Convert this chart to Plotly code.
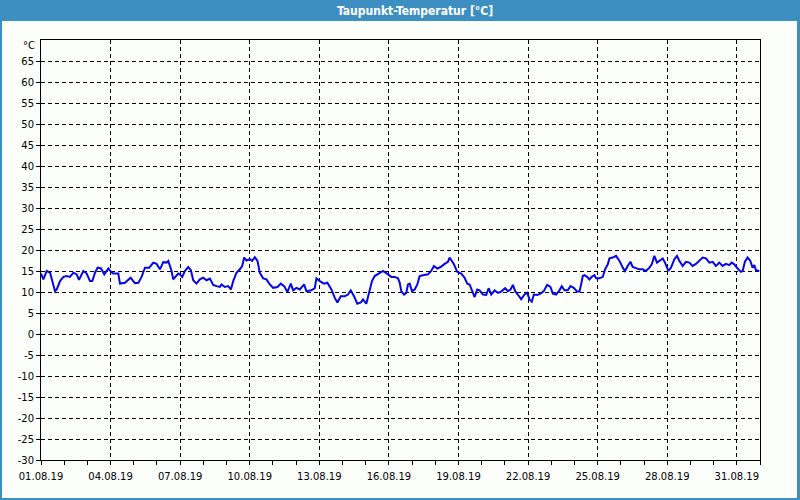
import plotly.graph_objects as go
import pandas as pd

title_text = "Taupunkt-Temperatur [°C]"
unit_label = "°C"
start_date = "2019-08-01"
end_date = "2019-09-01"

# hours since 01.08.2019 00:00
hours = [
    0, 2.5, 5.9, 9.4, 14.5, 16.3, 19.7, 23.2, 26.6, 30.0, 33.5, 36.9, 39.3, 41.4, 43.8, 47.3, 50.7, 53.1, 55.9, 58.6,
    62.1, 65.5, 69.7, 72.4, 74.8, 80.0, 81.7, 86.9, 90.3, 92.7, 97.2, 100.7, 104.1, 107.6, 112.0, 116.2, 119.6, 123.1,
    126.5, 130.0, 131.7, 135.1, 136.8, 140.3, 142.0, 143.7, 146.1, 148.9, 152.3, 155.1, 157.5, 160.9, 164.4, 167.8,
    171.3, 174.7, 178.2, 181.6, 185.1,
    186.8, 190.2, 193.7, 196.5, 198.9, 202.3, 205.7, 208.2, 210.2, 212.6, 216.1, 218.5, 221.3, 224.0, 226.4, 229.9,
    233.3, 236.8, 240.2, 244.7, 248.1, 251.6, 255.0, 258.5, 260.9, 264.3, 267.8, 272.3, 274.6, 279.8, 283.3, 285.0,
    288.5, 292.9, 296.3, 300.5, 304.0, 306.7, 310.2, 314.3, 317.7, 320.5, 323.9, 327.3, 330.9, 333.2, 336.6, 340.2,
    342.5, 345.3, 348.7, 353.9, 359.1, 362.5, 366.0,
    369.4, 371.2, 372.8, 375.6, 378.0, 379.7, 381.5, 383.9, 386.7, 389.4, 391.8, 395.3, 400.4, 403.8, 406.6, 410.0,
    413.5, 417.7, 421.1, 422.8, 424.5, 427.3, 430.7, 434.8, 438.3, 441.1, 443.5, 445.9, 448.7, 451.4, 453.8, 457.3,
    460.7, 463.2, 465.9, 469.3, 472.8, 476.2, 480.3, 483.1, 485.9, 488.3, 490.7, 493.4, 496.9, 500.3, 503.1, 505.5,
    507.9, 510.0, 513.4, 516.9, 520.3, 523.7, 527.2, 529.6, 533.0, 536.5, 538.9, 541.7, 545.1, 547.9, 551.3, 554.7,
    557.2, 558.9, 560.6, 562.4, 565.1, 567.5, 569.9, 572.7, 574.4, 577.9, 581.3, 583.7, 586.5, 588.2, 591.6, 595.0,
    598.6, 602.0, 604.3, 607.1, 609.9, 612.3, 615.7, 619.2, 622.6, 626.0, 629.6, 632.0, 634.7, 637.4, 639.9, 643.3,
    645.7, 649.2, 651.9, 655.4, 658.1, 660.6, 664.0, 667.4, 670.9, 674.3, 677.7, 681.2, 684.6, 688.1, 691.6, 695.0,
    698.4, 701.9, 705.3, 708.7, 712.3, 714.6, 717.4, 720.8, 724.3, 726.0, 728.4, 731.2, 734.0, 736.3, 738.1, 739.8,
    743.3,
]

dewpoint = [
    14.4, 13.0, 15.0, 14.6, 10.2, 10.6, 12.6, 13.6, 13.8, 13.6, 14.6, 14.2, 12.9, 13.8, 15.0, 14.4, 12.6, 12.6, 14.6, 15.8,
    15.6, 14.2, 15.6, 14.8, 14.4, 14.4, 12.0, 12.2, 12.8, 13.4, 12.1, 12.2, 13.6, 15.8, 15.8, 17.0, 16.7, 15.4,
    17.1, 17.0, 17.4, 15.0, 13.0, 13.8, 14.4, 14.2, 13.6, 15.0, 15.95, 15.2, 12.8, 12.0, 13.0, 13.4,
    12.8, 13.2, 11.7, 11.4, 11.2,
    11.8, 11.2, 11.4, 10.6, 12.6, 14.6, 15.4, 16.2, 18.2, 17.5, 17.8, 17.4, 18.3, 17.4, 14.6, 13.25,
    13.0, 11.8, 11.0, 11.2, 12.0, 11.4, 10.0, 12.0, 10.4, 11.0, 10.6, 11.8, 10.2, 10.4, 10.9, 13.25,
    12.6, 12.0, 12.2, 10.6, 8.6, 7.5, 9.0, 9.0, 9.4, 10.4, 9.0, 7.2, 7.5, 8.25, 7.2, 10.2,
    12.6, 13.8, 14.2, 15.0, 14.2, 13.6, 13.6,
    13.25, 12.2, 10.2, 9.4, 9.8, 11.8, 12.0, 10.2, 10.6, 11.8, 13.8, 14.0, 14.2, 15.0, 16.2, 15.6,
    15.95, 16.7, 17.2, 18.2, 17.5, 16.6, 14.8, 14.4, 13.4, 12.0, 11.8, 10.2, 8.8, 10.6, 10.4, 9.4,
    9.3, 10.9, 9.4, 10.4, 9.8, 10.1, 10.9, 10.2, 10.6, 11.7, 10.2, 9.4, 8.25, 9.4, 9.8, 8.25,
    7.7, 9.4, 9.3, 9.6, 10.2, 11.7, 11.2, 9.6, 9.4, 10.4, 11.4, 10.4, 10.4, 11.4, 11.0, 10.1,
    10.1, 11.8, 13.8, 14.0, 13.6, 13.0, 13.6, 14.0, 13.25, 13.25, 13.6, 15.4, 16.6, 18.0, 18.2, 18.6,
    17.4, 15.8, 15.0, 16.2, 17.2, 15.95, 15.6, 15.4, 15.4, 15.0, 15.8, 16.6, 18.6, 17.0, 17.4, 18.0,
    17.0, 15.0, 15.8, 17.8, 18.6, 17.4, 16.2, 17.2, 17.0, 16.2, 16.7, 17.4, 18.2, 18.0, 17.0, 17.2,
    16.2, 17.0, 16.2, 16.7, 16.4, 17.0, 16.6, 15.6, 14.8, 15.0, 17.2, 18.2, 17.4, 15.8, 16.4, 15.2,
    15.0,
]

y_ticks = list(range(-30, 70, 5))
x_tick_dates = pd.date_range("2019-08-01", "2019-08-31", freq="3D")
x_tick_labels = [d.strftime("%d.%m.%y") for d in x_tick_dates]

times = pd.Timestamp(start_date) + pd.to_timedelta(hours, unit="h")

W, H = 800, 500
ML, MR, MT, MB = 41, 40, 40, 40
PW, PH = W - ML - MR, H - MT - MB


def fx(px):
    return (px - ML) / PW


def fy(py):
    return (H - MB - py) / PH


BLUE = "#3d8fc2"
BG = "#fcfefc"
FONT = "DejaVu Sans"

fig = go.Figure()
fig.add_trace(go.Scatter(
    x=times, y=dewpoint, mode="lines",
    line=dict(color="#0606e6", width=2),
    hoverinfo="skip", showlegend=False,
))

fig.update_layout(
    width=W, height=H,
    margin=dict(l=ML, r=MR, t=MT, b=MB),
    paper_bgcolor=BG, plot_bgcolor=BG,
    font=dict(family=FONT, size=10, color="#000000"),
    xaxis=dict(
        range=[start_date, end_date],
        tickvals=list(x_tick_dates), ticktext=x_tick_labels,
        showgrid=True, gridcolor="#000000", griddash="4px,3px", gridwidth=1,
        showline=True, linecolor="#000000", linewidth=1, mirror=True,
        ticks="outside", ticklen=4, tickcolor="#000000", ticklabelstandoff=3,
        minor=dict(dtick=86400000, ticks="outside", ticklen=4, tickcolor="#000000", showgrid=False),
        zeroline=False, fixedrange=True,
        tickfont=dict(family=FONT, size=10, color="#000000"),
    ),
    yaxis=dict(
        range=[-30, 70],
        tickvals=y_ticks, ticktext=[str(v) for v in y_ticks],
        showgrid=True, gridcolor="#000000", griddash="4px,3px", gridwidth=1,
        showline=True, linecolor="#000000", linewidth=1, mirror=True,
        ticks="outside", ticklen=4, tickcolor="#000000",
        zeroline=False, fixedrange=True,
        tickfont=dict(family=FONT, size=10, color="#000000"),
    ),
    shapes=[
        dict(type="rect", xref="paper", yref="paper", x0=fx(0), x1=fx(W), y0=fy(21), y1=fy(0),
             fillcolor=BLUE, line=dict(width=0), layer="above"),
        dict(type="rect", xref="paper", yref="paper", x0=fx(0), x1=fx(2), y0=fy(H), y1=fy(21),
             fillcolor=BLUE, line=dict(width=0), layer="above"),
        dict(type="rect", xref="paper", yref="paper", x0=fx(W - 3), x1=fx(W), y0=fy(H), y1=fy(21),
             fillcolor=BLUE, line=dict(width=0), layer="above"),
        dict(type="rect", xref="paper", yref="paper", x0=fx(0), x1=fx(W), y0=fy(H), y1=fy(H - 2),
             fillcolor=BLUE, line=dict(width=0), layer="above"),
    ],
    annotations=[
        dict(text="<b>" + title_text + "</b>", xref="paper", yref="paper", x=fx(415), y=fy(10.5),
             xanchor="center", yanchor="middle", showarrow=False,
             font=dict(family="DejaVu Sans Condensed, sans-serif", size=12, color="#ffffff")),
        dict(text=unit_label, xref="paper", yref="paper", x=fx(37), y=fy(46),
             xanchor="right", yanchor="middle", showarrow=False,
             font=dict(family=FONT, size=10, color="#000000")),
    ],
)

fig.write_html("out.html", config={"displayModeBar": False, "staticPlot": True})
